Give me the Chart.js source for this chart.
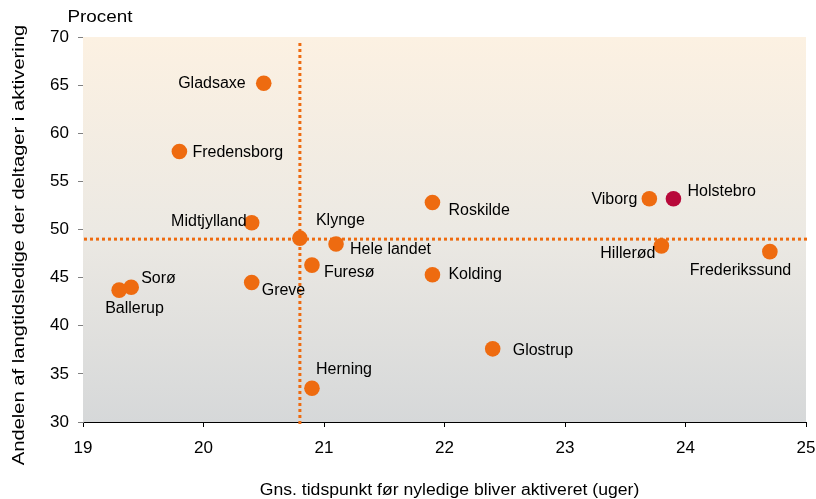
<!DOCTYPE html>
<html>
<head>
<meta charset="utf-8">
<script src="https://cdn.jsdelivr.net/npm/chart.js@4.4.0/dist/chart.umd.min.js"></script>
<style>
  html, body { margin: 0; padding: 0; background: #fff; }
  #wrap { width: 816px; height: 499px; }
</style>
</head>
<body>
<div id="wrap"><canvas id="scatterChart"></canvas></div>
<script>
const names = ['Gladsaxe', 'Fredensborg', 'Midtjylland', 'Klynge', 'Hele landet', 'Furesø', 'Greve', 'Sorø', 'Ballerup',
    'Roskilde', 'Kolding', 'Glostrup', 'Herning', 'Viborg', 'Holstebro', 'Hillerød', 'Frederikssund'];
const weeks = [20.5, 19.8, 20.4, 20.8, 21.1, 20.9, 20.4, 19.4, 19.3, 21.9, 21.9, 22.4, 20.9, 23.7, 23.9, 23.8, 24.7];
const shares = [65.2, 58.1, 50.7, 49.1, 48.5, 46.3, 44.5, 44.0, 43.7, 52.8, 45.3, 37.6, 33.5, 53.2, 53.2, 48.3, 47.7];
const highlighted = 'Holstebro';
const avgWeeks = 20.8;
const avgShare = 49;
const xTicks = [19, 20, 21, 22, 23, 24, 25];
const yTicks = [30, 35, 40, 45, 50, 55, 60, 65, 70];

const xTitle = 'Gns. tidspunkt før nyledige bliver aktiveret (uger)';
const yTitle = 'Andelen af langtidsledige der deltager i aktivering';
const unitLabel = 'Procent';

// where each label sits relative to its point: [dx, dy, align]
const labelSpots = {
    'Gladsaxe': [-18, 0, 'right'],
    'Fredensborg': [13, 1, 'left'],
    'Midtjylland': [-5, -1, 'right'],
    'Klynge': [16, -18, 'left'],
    'Hele landet': [14, 6, 'left'],
    'Furesø': [12, 7, 'left'],
    'Greve': [10, 8, 'left'],
    'Sorø': [10, -9, 'left'],
    'Ballerup': [-14, 18, 'left'],
    'Roskilde': [16, 8, 'left'],
    'Kolding': [16, 0, 'left'],
    'Glostrup': [20, 2, 'left'],
    'Herning': [4, -19, 'left'],
    'Viborg': [-12, 1, 'right'],
    'Holstebro': [14, -7, 'left'],
    'Hillerød': [-6, 8, 'right'],
    'Frederikssund': [-80, 19, 'left']
};

const orange = '#EE6B10';
const crimson = '#B8093A';
const fontFamily = 'Arial, "Liberation Sans", sans-serif';

const points = names.map((n, i) => ({ x: weeks[i], y: shares[i], name: n }));
const pointColors = names.map(n => n === highlighted ? crimson : orange);

// text in the original is a bit wider than plain Arial, so stretch it along the baseline
function wideText(ctx, text, x, y, stretch, angle) {
    ctx.save();
    ctx.translate(x, y);
    ctx.rotate(angle);
    ctx.scale(stretch, 1);
    ctx.fillText(text, 0, 0);
    ctx.restore();
}

const backgroundPlugin = {
    id: 'backgroundPlugin',
    beforeDatasetsDraw(chart) {
        const { ctx, chartArea, scales } = chart;
        const g = ctx.createLinearGradient(0, chartArea.top, 0, chartArea.bottom);
        g.addColorStop(0, '#FCF1E2');
        g.addColorStop(0.5, '#ECE9E3');
        g.addColorStop(1, '#D6D8D9');
        ctx.save();
        ctx.fillStyle = g;
        ctx.fillRect(chartArea.left, chartArea.top, chartArea.right - chartArea.left, chartArea.bottom - chartArea.top);

        ctx.strokeStyle = orange;
        ctx.lineWidth = 3;
        ctx.setLineDash([3, 3]);
        const vx = scales.x.getPixelForValue(avgWeeks);
        ctx.beginPath();
        ctx.moveTo(vx, chartArea.top + 6);
        ctx.lineTo(vx, chartArea.bottom + 4);
        ctx.stroke();
        const hy = scales.y.getPixelForValue(avgShare);
        ctx.beginPath();
        ctx.moveTo(chartArea.left + 1, hy);
        ctx.lineTo(chartArea.right + 4, hy);
        ctx.stroke();
        ctx.restore();
    }
};

const labelPlugin = {
    id: 'labelPlugin',
    afterDatasetsDraw(chart) {
        const { ctx, chartArea } = chart;
        const meta = chart.getDatasetMeta(0);
        ctx.save();
        ctx.font = '16px ' + fontFamily;
        ctx.fillStyle = '#000';
        ctx.textBaseline = 'middle';
        meta.data.forEach((el, i) => {
            const spot = labelSpots[names[i]];
            ctx.textAlign = spot[2];
            ctx.fillText(names[i], el.x + spot[0], el.y + spot[1]);
        });
        ctx.textAlign = 'center';
        wideText(ctx, unitLabel, 100, 18, 1.18, 0);
        wideText(ctx, xTitle, (chartArea.left + chartArea.right) / 2 + 5, 491, 1.1, 0);
        wideText(ctx, yTitle, 20, 245, 1.26, -Math.PI / 2);
        ctx.restore();
    }
};

new Chart(document.getElementById('scatterChart'), {
    type: 'scatter',
    data: {
        datasets: [{
            data: points,
            backgroundColor: pointColors,
            borderWidth: 0,
            pointRadius: 7.8,
            pointHoverRadius: 7.8
        }]
    },
    options: {
        responsive: true,
        maintainAspectRatio: false,
        animation: false,
        layout: {
            padding: { top: 37, right: 0, left: 0, bottom: 0 }
        },
        plugins: {
            legend: { display: false },
            tooltip: { enabled: false }
        },
        scales: {
            x: {
                type: 'linear',
                min: 19,
                max: 25,
                afterBuildTicks: scale => { scale.ticks = xTicks.map(v => ({ value: v })); },
                afterFit: scale => {
                    scale.height = 77;
                    scale.paddingLeft = 0;
                    scale.paddingRight = 10;
                },
                grid: { drawOnChartArea: false, drawTicks: true, tickLength: 5, color: '#000' },
                border: { display: true, color: '#000', width: 1 },
                ticks: { color: '#000', font: { size: 17, family: fontFamily }, padding: 11, maxRotation: 0 }
            },
            y: {
                type: 'linear',
                min: 30,
                max: 70,
                afterBuildTicks: scale => { scale.ticks = yTicks.map(v => ({ value: v })); },
                afterFit: scale => { scale.width = 83; },
                grid: { drawOnChartArea: false, drawTicks: true, tickLength: 5, color: '#808080' },
                border: { display: true, color: '#808080', width: 1 },
                ticks: { color: '#000', font: { size: 17, family: fontFamily }, padding: 9 }
            }
        }
    },
    plugins: [backgroundPlugin, labelPlugin]
});
</script>
</body>
</html>
